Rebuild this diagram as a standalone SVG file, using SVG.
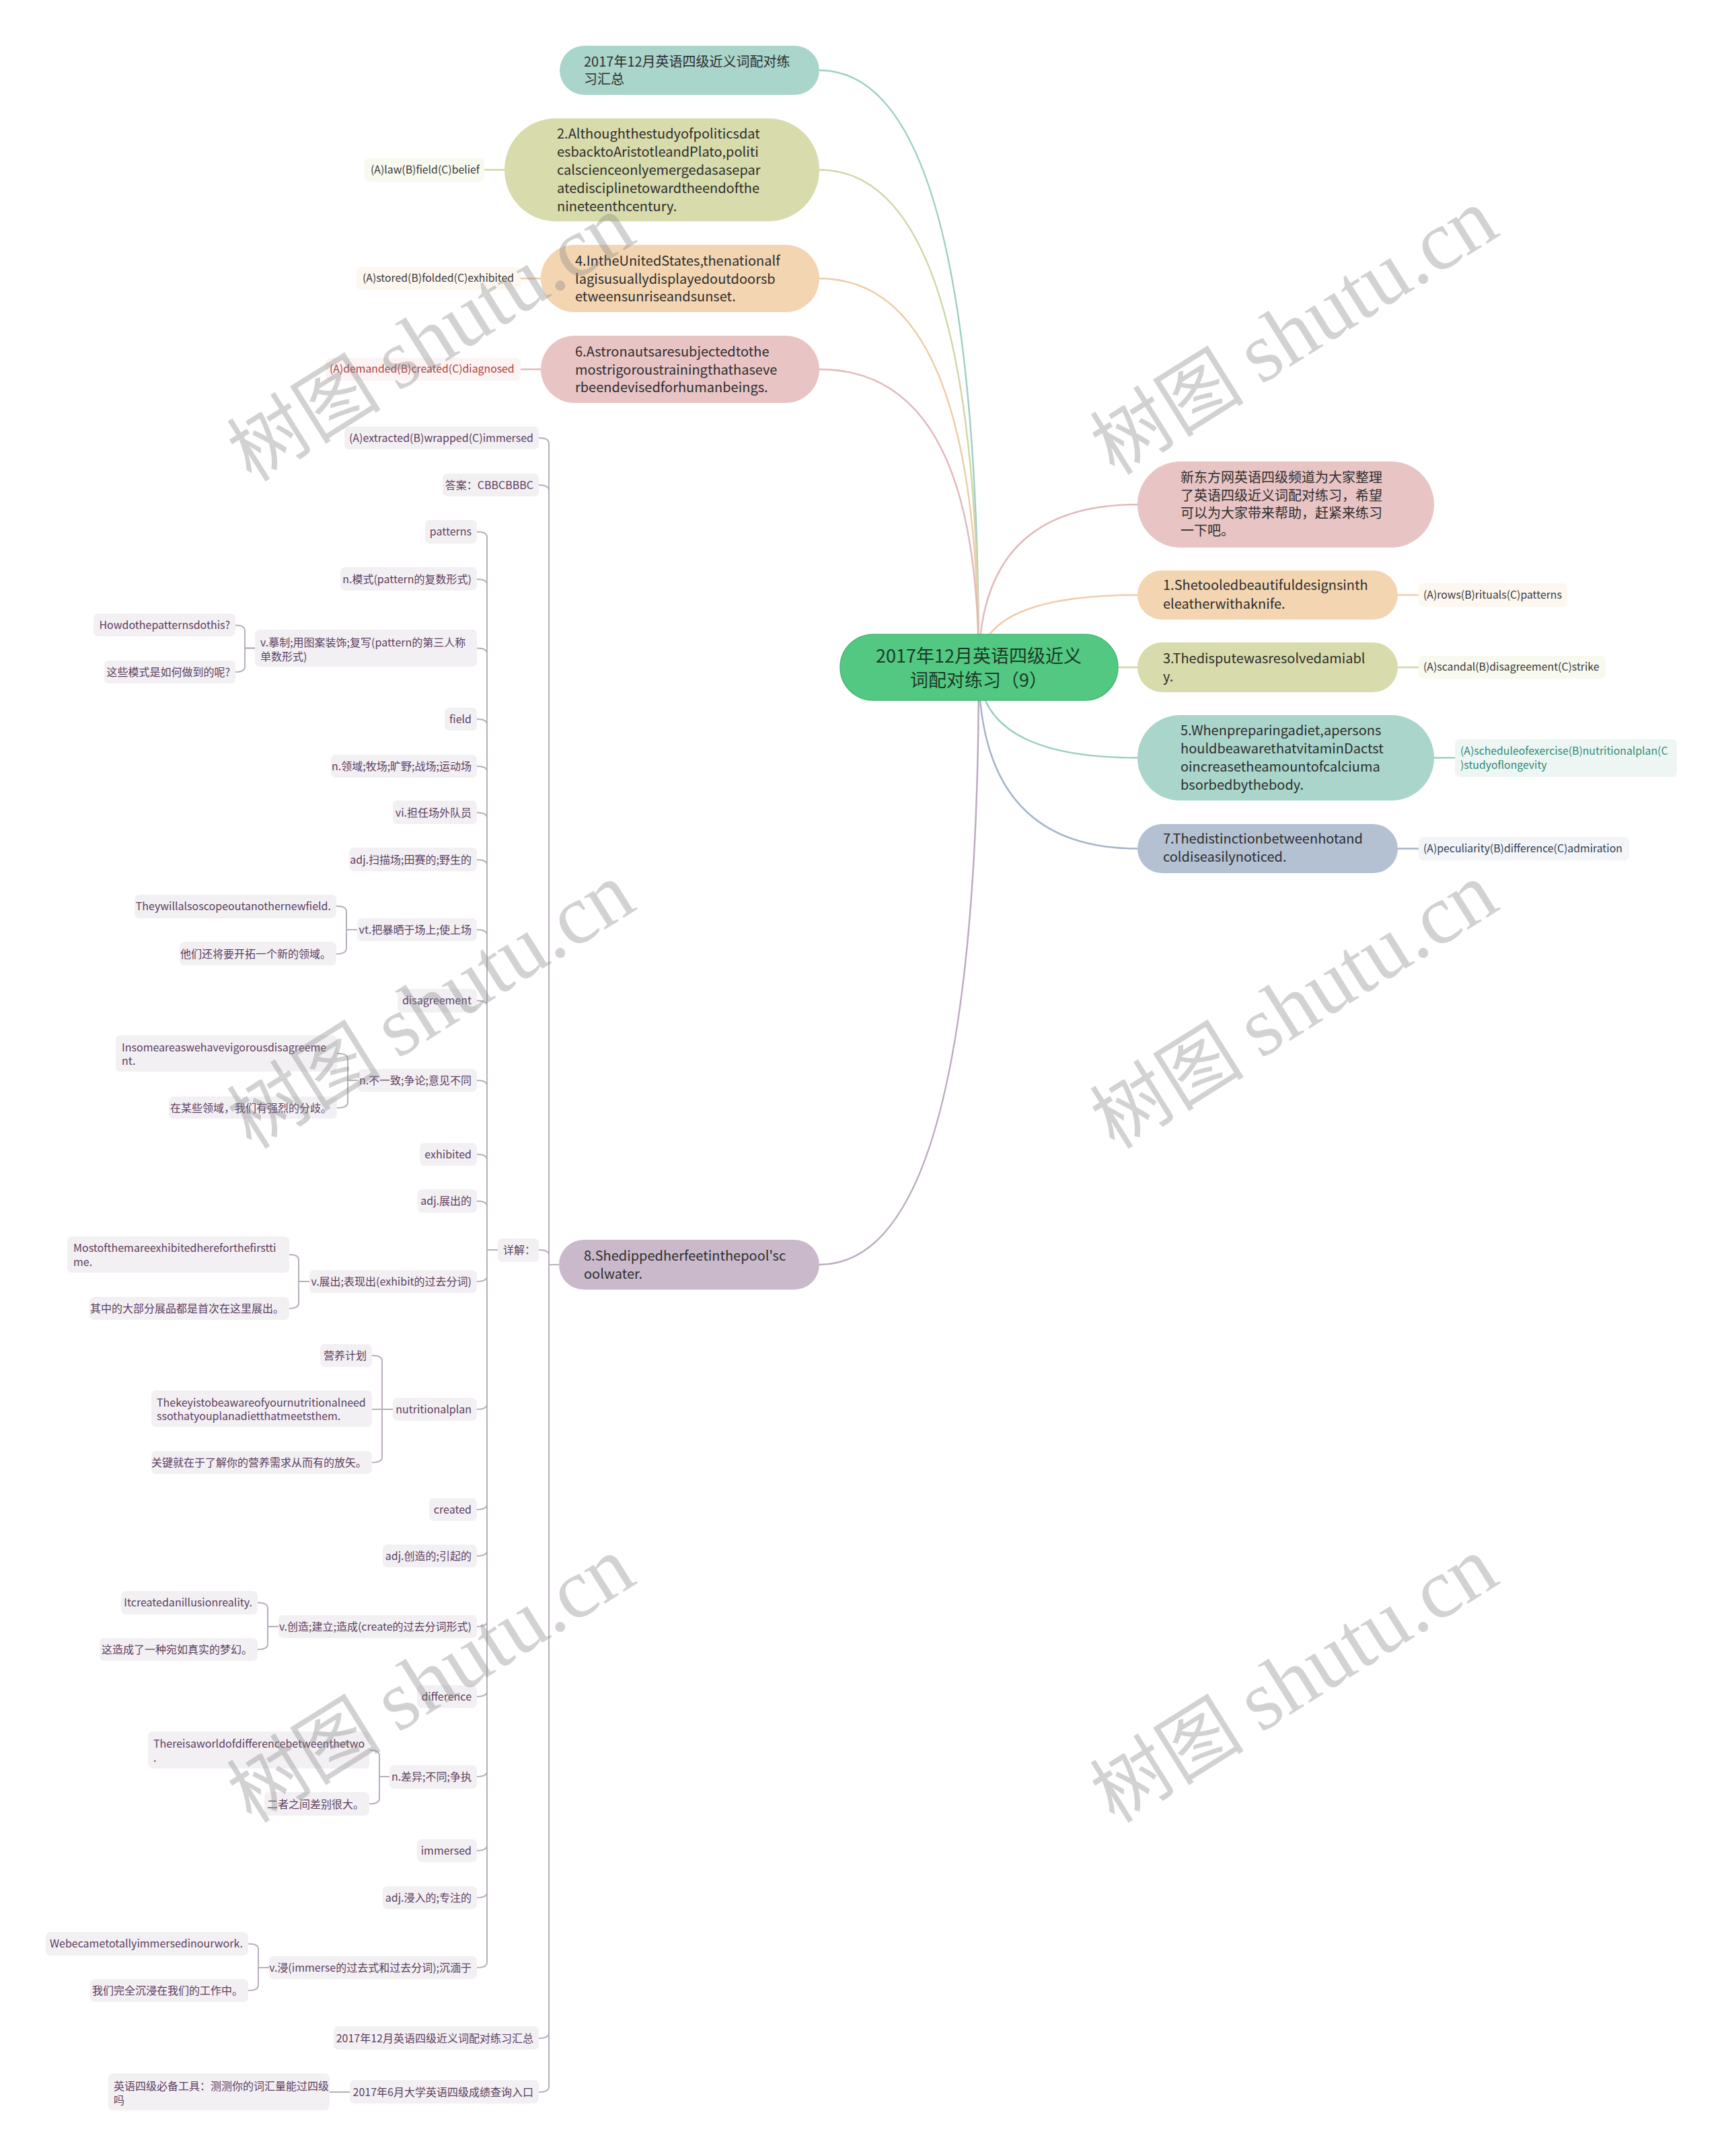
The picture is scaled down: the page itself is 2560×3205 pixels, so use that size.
<svg xmlns="http://www.w3.org/2000/svg" width="2560" height="3205" viewBox="0 0 2560 3205">
<style>
text{font-family:"Noto Sans CJK SC","Noto Sans",sans-serif;}
.nt{font-size:20px;fill:#2e2e2e;}
.rt{font-size:27px;fill:#1b3a27;text-anchor:middle;}
.lb{font-size:15.8px;fill:#3a3a3a;}
.it{font-size:16px;fill:#5c3e5f;}
.ie{font-size:16px;fill:#5c3e5f;text-anchor:end;}
.ib{fill:#f3f0f4;}
.cn{fill:none;stroke-width:2.5;}
.ic{fill:none;stroke:#b9adbd;stroke-width:2;}
.wm{font-size:115px;fill:#8a8a8a;fill-opacity:0.38;text-anchor:middle;}
.wms{font-family:"Liberation Serif",serif;font-size:126px;}
</style>
<rect width="2560" height="3205" fill="#ffffff"/>

<g id="connectors">
  <path class="cn" stroke="#9ccfc4" d="M1218 104.5 Q1455 104.5 1455 992"/>
  <path class="cn" stroke="#d2d6a6" d="M1218 252.5 Q1455 252.5 1455 992"/>
  <path class="cn" stroke="#efcca6" d="M1218 414 Q1455 414 1455 992"/>
  <path class="cn" stroke="#e2b9bb" d="M1218 549 Q1455 549 1455 992"/>
  <path class="cn" stroke="#bcaabf" d="M1218 1880 Q1455 1880 1455 992"/>
  <path class="cn" stroke="#e2b9bb" d="M1455 992 Q1455 750 1691 750"/>
  <path class="cn" stroke="#efcca6" d="M1455 992 Q1455 884.5 1691 884.5"/>
  <path class="cn" stroke="#d2d6a6" d="M1455 992 L1691 992"/>
  <path class="cn" stroke="#9ccfc4" d="M1455 992 Q1455 1126.5 1691 1126.5"/>
  <path class="cn" stroke="#a5b5ca" d="M1455 992 Q1455 1261.5 1691 1261.5"/>
  <!-- label connectors -->
  <path class="cn" stroke="#d2d6a6" d="M720 252.5 H750"/>
  <path class="cn" stroke="#efcca6" d="M774 414 H804"/>
  <path class="cn" stroke="#e2b9bb" d="M774 549 H804"/>
  <path class="cn" stroke="#efcca6" d="M2078 884.5 H2109"/>
  <path class="cn" stroke="#d2d6a6" d="M2078 992 H2109"/>
  <path class="cn" stroke="#9ccfc4" d="M2132 1126.5 H2163"/>
  <path class="cn" stroke="#a5b5ca" d="M2078 1261.5 H2109"/>
  <!-- node 8 children -->
  <path class="ic" d="M831 1880 H816 V659 Q816 651 801 651"/>
  <path class="ic" d="M831 1880 H816 V729 Q816 721 801 721"/>
  <path class="ic" d="M831 1880 H816 V1866 Q816 1858 801 1858"/>
  <path class="ic" d="M831 1880 H816 V3022 Q816 3030 801 3030"/>
  <path class="ic" d="M831 1880 H816 V3102 Q816 3110 801 3110"/>
  <!-- 详解 children -->
  <path class="ic" d="M740 1858 H724 V798.5 Q724 790.5 709 790.5"/>
  <path class="ic" d="M740 1858 H724 V869 Q724 861 709 861"/>
  <path class="ic" d="M740 1858 H724 V971.5 Q724 963.5 709 963.5"/>
  <path class="ic" d="M740 1858 H724 V1077 Q724 1069 709 1069"/>
  <path class="ic" d="M740 1858 H724 V1147 Q724 1139 709 1139"/>
  <path class="ic" d="M740 1858 H724 V1216 Q724 1208 709 1208"/>
  <path class="ic" d="M740 1858 H724 V1286 Q724 1278 709 1278"/>
  <path class="ic" d="M740 1858 H724 V1390 Q724 1382 709 1382"/>
  <path class="ic" d="M740 1858 H724 V1495.5 Q724 1487.5 709 1487.5"/>
  <path class="ic" d="M740 1858 H724 V1614 Q724 1606 709 1606"/>
  <path class="ic" d="M740 1858 H724 V1724 Q724 1716 709 1716"/>
  <path class="ic" d="M740 1858 H724 V1793.5 Q724 1785.5 709 1785.5"/>
  <path class="ic" d="M740 1858 H724 V1897 Q724 1905 709 1905"/>
  <path class="ic" d="M740 1858 H724 V2087 Q724 2095 709 2095"/>
  <path class="ic" d="M740 1858 H724 V2236 Q724 2244 709 2244"/>
  <path class="ic" d="M740 1858 H724 V2305 Q724 2313 709 2313"/>
  <path class="ic" d="M740 1858 H724 V2410 Q724 2418 709 2418"/>
  <path class="ic" d="M740 1858 H724 V2514 Q724 2522 709 2522"/>
  <path class="ic" d="M740 1858 H724 V2633 Q724 2641 709 2641"/>
  <path class="ic" d="M740 1858 H724 V2743 Q724 2751 709 2751"/>
  <path class="ic" d="M740 1858 H724 V2813 Q724 2821 709 2821"/>
  <path class="ic" d="M740 1858 H724 V2917 Q724 2925 709 2925"/>
  <!-- grandchildren -->
  <path class="ic" d="M379 963.5 H364 V937.5 Q364 929.5 350 929.5"/>
  <path class="ic" d="M379 963.5 H364 V991 Q364 999 350 999"/>
  <path class="ic" d="M531 1382 H515 V1355 Q515 1347 500 1347"/>
  <path class="ic" d="M531 1382 H515 V1410 Q515 1418 500 1418"/>
  <path class="ic" d="M532 1606 H517 V1574 Q517 1566 501 1566"/>
  <path class="ic" d="M532 1606 H517 V1639 Q517 1647 501 1647"/>
  <path class="ic" d="M460 1905 H444 V1873 Q444 1865 430 1865"/>
  <path class="ic" d="M460 1905 H444 V1937 Q444 1945 430 1945"/>
  <path class="ic" d="M584 2095 H568 V2023 Q568 2015 553 2015"/>
  <path class="ic" d="M584 2095 H553"/>
  <path class="ic" d="M584 2095 H568 V2166 Q568 2174 553 2174"/>
  <path class="ic" d="M414 2418 H398 V2390.5 Q398 2382.5 383 2382.5"/>
  <path class="ic" d="M414 2418 H398 V2444 Q398 2452 383 2452"/>
  <path class="ic" d="M579 2641 H564 V2609.5 Q564 2601.5 549 2601.5"/>
  <path class="ic" d="M579 2641 H564 V2673.5 Q564 2681.5 549 2681.5"/>
  <path class="ic" d="M400 2925 H384 V2897.5 Q384 2889.5 369 2889.5"/>
  <path class="ic" d="M400 2925 H384 V2951 Q384 2959 369 2959"/>
  <path class="ic" d="M520 3110 H490"/>
</g>

<g id="root">
  <rect x="1249" y="943" width="413" height="98" rx="49" fill="#52c882" stroke="#46b873" stroke-width="1.5"/>
  <text class="rt" x="1455" y="985">2017年12月英语四级近义</text>
  <text class="rt" x="1455" y="1021">词配对练习（9）</text>
</g>

<g id="node-a">
  <rect x="832" y="68" width="386" height="73" rx="36.5" fill="#a9d5cb"/>
  <text class="nt" x="868" y="99">2017年12月英语四级近义词配对练</text>
  <text class="nt" x="868" y="125">习汇总</text>
</g>
<g id="node-2">
  <rect x="750" y="176" width="468" height="153" rx="76" fill="#d8dbab"/>
  <text class="nt" x="828" y="206">2.Althoughthestudyofpoliticsdat</text>
  <text class="nt" x="828" y="233">esbacktoAristotleandPlato,politi</text>
  <text class="nt" x="828" y="260">calscienceonlyemergedasasepar</text>
  <text class="nt" x="828" y="287">atedisciplinetowardtheendofthe</text>
  <text class="nt" x="828" y="314">nineteenthcentury.</text>
</g>
<g id="label-2">
  <rect x="542" y="235" width="178" height="35" rx="7" fill="#f8f9ef"/>
  <text class="lb" x="551" y="258">(A)law(B)field(C)belief</text>
</g>
<g id="node-4">
  <rect x="804" y="364" width="414" height="100" rx="50" fill="#f3d5b1"/>
  <text class="nt" x="855" y="395">4.IntheUnitedStates,thenationalf</text>
  <text class="nt" x="855" y="422">lagisusuallydisplayedoutdoorsb</text>
  <text class="nt" x="855" y="448">etweensunriseandsunset.</text>
</g>
<g id="label-4">
  <rect x="530" y="397" width="244" height="34" rx="7" fill="#fdf7f0"/>
  <text class="lb" x="539" y="419">(A)stored(B)folded(C)exhibited</text>
</g>
<g id="node-6">
  <rect x="804" y="499" width="414" height="100" rx="50" fill="#e8c4c5"/>
  <text class="nt" x="855" y="530">6.Astronautsaresubjectedtothe</text>
  <text class="nt" x="855" y="557">mostrigoroustrainingthathaseve</text>
  <text class="nt" x="855" y="583">rbeendevisedforhumanbeings.</text>
</g>
<g id="label-6">
  <rect x="484" y="532" width="290" height="34" rx="7" fill="#fcf4f4"/>
  <text class="lb" x="490" y="554" style="fill:#b03c3c">(A)demanded(B)created(C)diagnosed</text>
</g>

<g id="node-intro">
  <rect x="1691" y="686" width="441" height="128" rx="64" fill="#e8c4c5"/>
  <text class="nt" x="1755" y="717">新东方网英语四级频道为大家整理</text>
  <text class="nt" x="1755" y="744">了英语四级近义词配对练习，希望</text>
  <text class="nt" x="1755" y="770">可以为大家带来帮助，赶紧来练习</text>
  <text class="nt" x="1755" y="796">一下吧。</text>
</g>
<g id="node-1">
  <rect x="1691" y="848" width="387" height="73" rx="36.5" fill="#f3d5b1"/>
  <text class="nt" x="1729" y="877">1.Shetooledbeautifuldesignsinth</text>
  <text class="nt" x="1729" y="905">eleatherwithaknife.</text>
</g>
<g id="label-1">
  <rect x="2109" y="867" width="221" height="35" rx="7" fill="#fdf7f0"/>
  <text class="lb" x="2116" y="890">(A)rows(B)rituals(C)patterns</text>
</g>
<g id="node-3">
  <rect x="1691" y="955" width="387" height="74" rx="37" fill="#d8dbab"/>
  <text class="nt" x="1729" y="986">3.Thedisputewasresolvedamiabl</text>
  <text class="nt" x="1729" y="1013">y.</text>
</g>
<g id="label-3">
  <rect x="2109" y="975" width="278" height="34" rx="7" fill="#f8f9ef"/>
  <text class="lb" x="2116" y="997">(A)scandal(B)disagreement(C)strike</text>
</g>
<g id="node-5">
  <rect x="1691" y="1063" width="441" height="127" rx="63.5" fill="#a9d5cb"/>
  <text class="nt" x="1755" y="1093">5.Whenpreparingadiet,apersons</text>
  <text class="nt" x="1755" y="1120">houldbeawarethatvitaminDactst</text>
  <text class="nt" x="1755" y="1147">oincreasetheamountofcalciuma</text>
  <text class="nt" x="1755" y="1174">bsorbedbythebody.</text>
</g>
<g id="label-5">
  <rect x="2163" y="1099" width="330" height="56" rx="7" fill="#eef6f4"/>
  <text class="lb" x="2171" y="1122" style="fill:#2f8a76">(A)scheduleofexercise(B)nutritionalplan(C</text>
  <text class="lb" x="2171" y="1143" style="fill:#2f8a76">)studyoflongevity</text>
</g>
<g id="node-7">
  <rect x="1691" y="1225" width="387" height="73" rx="36.5" fill="#b3c1d3"/>
  <text class="nt" x="1729" y="1254">7.Thedistinctionbetweenhotand</text>
  <text class="nt" x="1729" y="1281">coldiseasilynoticed.</text>
</g>
<g id="label-7">
  <rect x="2109" y="1244" width="313" height="35" rx="7" fill="#f3f5f9"/>
  <text class="lb" x="2116" y="1267" style="fill:#2e3f57">(A)peculiarity(B)difference(C)admiration</text>
</g>

<g id="node-8">
  <rect x="831" y="1843" width="387" height="74" rx="37" fill="#c9b9cb"/>
  <text class="nt" x="868" y="1874">8.Shedippedherfeetinthepool'sc</text>
  <text class="nt" x="868" y="1901">oolwater.</text>
</g>

<g id="n8-c1"><rect class="ib" x="512" y="634" width="289" height="34" rx="7"/><text class="ie" x="793" y="657">(A)extracted(B)wrapped(C)immersed</text></g>
<g id="n8-c2"><rect class="ib" x="658" y="704" width="143" height="34" rx="7"/><text class="ie" x="793" y="727">答案：CBBCBBBC</text></g>
<g id="n8-c3"><rect class="ib" x="740" y="1841" width="61" height="35" rx="7"/><text class="it" x="748" y="1864">详解：</text></g>
<g id="n8-c4"><rect class="ib" x="496" y="3012" width="305" height="35" rx="7"/><text class="ie" x="793" y="3036">2017年12月英语四级近义词配对练习汇总</text></g>
<g id="n8-c5"><rect class="ib" x="520" y="3092" width="281" height="35" rx="7"/><text class="ie" x="793" y="3116">2017年6月大学英语四级成绩查询入口</text></g>
<g id="n8-c5-1"><rect class="ib" x="161" y="3082" width="329" height="55" rx="7"/><text class="it" x="169" y="3107">英语四级必备工具：测测你的词汇量能过四级</text><text class="it" x="169" y="3128">吗</text></g>

<g id="d1"><rect class="ib" x="632" y="773" width="77" height="35" rx="7"/><text class="ie" x="701" y="796">patterns</text></g>
<g id="d2"><rect class="ib" x="506" y="843" width="203" height="35" rx="7"/><text class="ie" x="701" y="867">n.模式(pattern的复数形式)</text></g>
<g id="d3"><rect class="ib" x="379" y="936" width="330" height="55" rx="7"/><text class="it" x="387" y="961">v.摹制;用图案装饰;复写(pattern的第三人称</text><text class="it" x="387" y="982">单数形式)</text></g>
<g id="d3-1"><rect class="ib" x="139" y="912" width="211" height="34" rx="7"/><text class="ie" x="342" y="935">Howdothepatternsdothis?</text></g>
<g id="d3-2"><rect class="ib" x="155" y="982" width="195" height="34" rx="7"/><text class="ie" x="342" y="1005">这些模式是如何做到的呢?</text></g>
<g id="d4"><rect class="ib" x="661" y="1052" width="48" height="34" rx="7"/><text class="ie" x="701" y="1075">field</text></g>
<g id="d5"><rect class="ib" x="492" y="1122" width="217" height="34" rx="7"/><text class="ie" x="701" y="1145">n.领域;牧场;旷野;战场;运动场</text></g>
<g id="d6"><rect class="ib" x="584" y="1190" width="125" height="35" rx="7"/><text class="ie" x="701" y="1214">vi.担任场外队员</text></g>
<g id="d7"><rect class="ib" x="519" y="1260" width="190" height="35" rx="7"/><text class="ie" x="701" y="1284">adj.扫描场;田赛的;野生的</text></g>
<g id="d8"><rect class="ib" x="531" y="1365" width="178" height="34" rx="7"/><text class="ie" x="701" y="1388">vt.把暴晒于场上;使上场</text></g>
<g id="d8-1"><rect class="ib" x="200" y="1330" width="300" height="35" rx="7"/><text class="ie" x="492" y="1353">Theywillalsoscopeoutanothernewfield.</text></g>
<g id="d8-2"><rect class="ib" x="267" y="1400" width="233" height="35" rx="7"/><text class="ie" x="492" y="1424">他们还将要开拓一个新的领域。</text></g>
<g id="d9"><rect class="ib" x="591" y="1470" width="118" height="35" rx="7"/><text class="ie" x="701" y="1493">disagreement</text></g>
<g id="d10"><rect class="ib" x="532" y="1589" width="177" height="34" rx="7"/><text class="ie" x="701" y="1612">n.不一致;争论;意见不同</text></g>
<g id="d10-1"><rect class="ib" x="172" y="1539" width="329" height="54" rx="7"/><text class="it" x="181" y="1563">Insomeareaswehavevigorousdisagreeme</text><text class="it" x="181" y="1583">nt.</text></g>
<g id="d10-2"><rect class="ib" x="251" y="1630" width="250" height="33" rx="7"/><text class="ie" x="493" y="1653">在某些领域，我们有强烈的分歧。</text></g>
<g id="d11"><rect class="ib" x="624" y="1699" width="85" height="34" rx="7"/><text class="ie" x="701" y="1722">exhibited</text></g>
<g id="d12"><rect class="ib" x="621" y="1768" width="88" height="35" rx="7"/><text class="ie" x="701" y="1791">adj.展出的</text></g>
<g id="d13"><rect class="ib" x="460" y="1888" width="249" height="34" rx="7"/><text class="ie" x="701" y="1911">v.展出;表现出(exhibit的过去分词)</text></g>
<g id="d13-1"><rect class="ib" x="100" y="1838" width="330" height="54" rx="7"/><text class="it" x="109" y="1861">Mostofthemareexhibitedhereforthefirstti</text><text class="it" x="109" y="1882">me.</text></g>
<g id="d13-2"><rect class="ib" x="133" y="1928" width="297" height="34" rx="7"/><text class="ie" x="422" y="1951">其中的大部分展品都是首次在这里展出。</text></g>
<g id="d14"><rect class="ib" x="584" y="2078" width="125" height="34" rx="7"/><text class="ie" x="701" y="2101">nutritionalplan</text></g>
<g id="d14-1"><rect class="ib" x="476" y="1998" width="77" height="34" rx="7"/><text class="ie" x="545" y="2021">营养计划</text></g>
<g id="d14-2"><rect class="ib" x="225" y="2067" width="328" height="54" rx="7"/><text class="it" x="233" y="2091">Thekeyistobeawareofyournutritionalneed</text><text class="it" x="233" y="2111">ssothatyouplanadietthatmeetsthem.</text></g>
<g id="d14-3"><rect class="ib" x="225" y="2157" width="328" height="34" rx="7"/><text class="ie" x="545" y="2180">关键就在于了解你的营养需求从而有的放矢。</text></g>
<g id="d15"><rect class="ib" x="638" y="2227" width="71" height="34" rx="7"/><text class="ie" x="701" y="2250">created</text></g>
<g id="d16"><rect class="ib" x="569" y="2296" width="140" height="34" rx="7"/><text class="ie" x="701" y="2319">adj.创造的;引起的</text></g>
<g id="d17"><rect class="ib" x="414" y="2401" width="295" height="34" rx="7"/><text class="ie" x="701" y="2424">v.创造;建立;造成(create的过去分词形式)</text></g>
<g id="d17-1"><rect class="ib" x="180" y="2365" width="203" height="35" rx="7"/><text class="ie" x="375" y="2388">Itcreatedanillusionreality.</text></g>
<g id="d17-2"><rect class="ib" x="148" y="2435" width="235" height="34" rx="7"/><text class="ie" x="375" y="2458">这造成了一种宛如真实的梦幻。</text></g>
<g id="d18"><rect class="ib" x="620" y="2505" width="89" height="34" rx="7"/><text class="ie" x="701" y="2528">difference</text></g>
<g id="d19"><rect class="ib" x="579" y="2624" width="130" height="35" rx="7"/><text class="ie" x="701" y="2647">n.差异;不同;争执</text></g>
<g id="d19-1"><rect class="ib" x="220" y="2574" width="329" height="55" rx="7"/><text class="it" x="228" y="2598">Thereisaworldofdifferencebetweenthetwo</text><text class="it" x="228" y="2619">.</text></g>
<g id="d19-2"><rect class="ib" x="393" y="2664" width="156" height="35" rx="7"/><text class="ie" x="541" y="2688">二者之间差别很大。</text></g>
<g id="d20"><rect class="ib" x="620" y="2734" width="89" height="34" rx="7"/><text class="ie" x="701" y="2757">immersed</text></g>
<g id="d21"><rect class="ib" x="569" y="2804" width="140" height="34" rx="7"/><text class="ie" x="701" y="2827">adj.浸入的;专注的</text></g>
<g id="d22"><rect class="ib" x="400" y="2908" width="309" height="34" rx="7"/><text class="ie" x="701" y="2931">v.浸(immerse的过去式和过去分词);沉湎于</text></g>
<g id="d22-1"><rect class="ib" x="68" y="2872" width="301" height="35" rx="7"/><text class="ie" x="361" y="2895">Webecametotallyimmersedinourwork.</text></g>
<g id="d22-2"><rect class="ib" x="134" y="2942" width="235" height="34" rx="7"/><text class="ie" x="361" y="2965">我们完全沉浸在我们的工作中。</text></g>

<g id="watermarks">
  <text class="wm" transform="translate(662 538) rotate(-32)">树图 <tspan class="wms">shutu.cn</tspan></text>
  <text class="wm" transform="translate(1945 528) rotate(-32)">树图 <tspan class="wms">shutu.cn</tspan></text>
  <text class="wm" transform="translate(662 1530) rotate(-32)">树图 <tspan class="wms">shutu.cn</tspan></text>
  <text class="wm" transform="translate(1945 1530) rotate(-32)">树图 <tspan class="wms">shutu.cn</tspan></text>
  <text class="wm" transform="translate(662 2532) rotate(-32)">树图 <tspan class="wms">shutu.cn</tspan></text>
  <text class="wm" transform="translate(1945 2532) rotate(-32)">树图 <tspan class="wms">shutu.cn</tspan></text>
</g>
</svg>
